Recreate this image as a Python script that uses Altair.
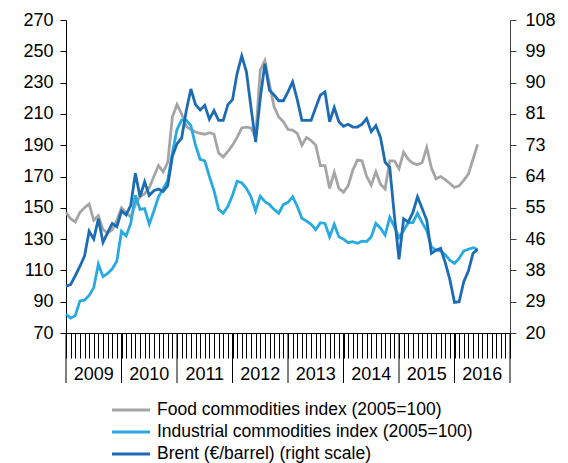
import altair as alt
import pandas as pd

# Monthly data, month index 0 = January 2009
food = [147, 143, 141, 147, 150, 152.5, 142, 145, 136, 134,
        136, 142, 150, 147, 144, 152, 157, 159, 163, 170,
        177, 173, 179, 208, 216, 210, 202, 200, 198.5, 197.5,
        197, 198, 197, 185, 182.5, 186, 190, 195, 201, 201.5,
        201, 195, 238, 244, 229, 214.6, 208, 205, 200, 199.7,
        197.6, 190, 195, 193, 190, 177, 177, 162.4, 172.7, 162.4,
        160, 164, 174, 180.5, 180, 170, 164.5, 173, 165, 162,
        180, 180, 175, 185.5, 181, 178.5, 177.5, 179, 188.5, 175.5,
        168.5, 170, 168, 165.5, 163, 164, 167.5, 171.5, 181, 190.5]

industrial = [82, 79.5, 81, 90.5, 91, 94, 99, 114, 106, 108,
              111, 116, 135, 132, 140, 158, 149, 149.5, 139.5, 148,
              157, 162, 167.5, 185, 200, 206, 206, 202.5, 190, 181,
              180, 170, 161, 149, 146.5, 151, 158, 167, 166, 162.5,
              157, 148, 157.5, 154, 152, 149, 146.5, 152, 153.5, 157,
              151, 143.3, 141.5, 139.5, 136, 140.5, 140, 131.5, 139.5, 131.5,
              130, 127.7, 128.4, 127.3, 128.7, 128.4, 131.5, 140, 137, 132.5,
              144, 138, 131, 135.5, 140.5, 140.5, 146.5, 140.5, 135.5, 125,
              123, 122.4, 120, 116.5, 114.5, 117.7, 122.4, 123.5, 124.5, 123.5]

brent = [33.2, 33.6, 36.1, 38.7, 41.6, 48.6, 46.4, 52.1, 45.5, 48.2,
         50.8, 49.9, 54.3, 53.2, 55.9, 64.9, 58.3, 62.5, 58.7, 60.0,
         60.5, 59.8, 61.4, 69.7, 73.2, 74.8, 82.5, 88.6, 84.2, 82.7,
         84.0, 80.1, 82.5, 79.8, 79.8, 84.2, 85.6, 93.0, 97.9, 93.5,
         83.4, 73.7, 86.0, 95.7, 88.2, 86.9, 85.3, 85.3, 87.8, 90.6,
         85.6, 79.8, 79.8, 79.8, 83.4, 86.9, 87.8, 79.4, 83.4, 79.4,
         78.1, 78.7, 77.9, 77.9, 78.7, 80.3, 76.6, 78.3, 75.0, 68.0,
         66.6, 53.0, 40.7, 52.1, 51.2, 53.9, 58.3, 55.0, 51.7, 42.4,
         43.3, 43.8, 39.8, 35.0, 28.6, 28.8, 34.4, 37.4, 42.4, 43.5]

years = [2009, 2010, 2011, 2012, 2013, 2014, 2015, 2016]
left_ticks = [70, 90, 110, 130, 150, 170, 190, 210, 230, 250, 270]
right_labels = ["20", "29", "38", "46", "55", "64", "73", "81", "90", "99", "108"]

names = ["Food commodities index (2005=100)",
         "Industrial commodities index (2005=100)",
         "Brent (€/barrel) (right scale)"]
colors = ["#A5A5A5", "#27A9E1", "#1B6CB4"]

FONT = "Liberation Sans"
n = len(food)
months = list(range(n))

left_df = pd.DataFrame({
    "m": months * 2,
    "value": food + industrial,
    "series": [names[0]] * n + [names[1]] * n,
})
brent_df = pd.DataFrame({"m": months, "value": brent, "series": [names[2]] * n})

color_scale = alt.Scale(domain=names, range=colors)
x_scale = alt.Scale(domain=[0, 96], nice=False, zero=False)

x_axis = alt.Axis(values=list(range(97)), tickSize=25, labels=False, title=None,
                  grid=False, domainColor="black", tickColor="black",
                  domainWidth=1, tickWidth=1)


def xenc(field):
    return alt.X(field, scale=x_scale, axis=x_axis)


left = alt.Chart(left_df).mark_line(strokeWidth=2.8).encode(
    x=xenc("m:Q"),
    y=alt.Y("value:Q", scale=alt.Scale(domain=[70, 270], nice=False, zero=False),
            axis=alt.Axis(values=left_ticks, orient="left", title=None, grid=False,
                          tickSize=6, labelPadding=7, domainColor="black",
                          tickColor="black", labelFontSize=18, labelFont=FONT,
                          labelColor="black")),
    color=alt.Color("series:N", scale=color_scale, legend=None),
    detail="series:N",
)

right_axis_values = [20 + 8.8 * k for k in range(len(right_labels))]
label_expr = "[" + ",".join("'%s'" % s for s in right_labels) + "][round((datum.value-20)/8.8)]"

right = alt.Chart(brent_df).mark_line(strokeWidth=2.8).encode(
    x=xenc("m:Q"),
    y=alt.Y("value:Q", scale=alt.Scale(domain=[20, 108], nice=False, zero=False),
            axis=alt.Axis(values=right_axis_values, orient="right", title=None, grid=False,
                          tickSize=6, labelPadding=9, domainColor="#404040",
                          tickColor="#404040", labelFontSize=18, labelFont=FONT,
                          labelColor="black", labelExpr=label_expr)),
    color=alt.Color("series:N", scale=color_scale, legend=None),
)

bounds_df = pd.DataFrame({"m": [(y - years[0]) * 12 for y in years] + [len(years) * 12]})
year_rules = alt.Chart(bounds_df).mark_rule(color="black", strokeWidth=1).encode(
    x=xenc("m:Q"),
    y=alt.value(313),
    y2=alt.value(363),
)

year_df = pd.DataFrame({"year": [str(y) for y in years]})
year_text = alt.Chart(year_df).transform_calculate(
    m="(toNumber(datum.year) - 2009) * 12 + 6"
).mark_text(font=FONT, fontSize=18, baseline="middle", align="center", color="black").encode(
    x=xenc("m:Q"),
    y=alt.value(355),
    text="year:N",
)

leg_df = pd.DataFrame({"series": names, "row": [0, 1, 2]})
leg_y = alt.Y("row:Q", scale=alt.Scale(domain=[0, 2], range=[390, 434]), axis=None)
leg_lines = alt.Chart(leg_df).mark_rule(strokeWidth=3).encode(
    x=alt.value(46), x2=alt.value(84), y=leg_y,
    color=alt.Color("series:N", scale=color_scale, legend=None),
)
leg_text = alt.Chart(leg_df).mark_text(font=FONT, fontSize=17.5, align="left",
                                       baseline="middle", color="black").encode(
    x=alt.value(91), y=leg_y, text="series:N",
)

chart = alt.layer(left, right, year_rules, year_text, leg_lines, leg_text).resolve_scale(
    y="independent"
).properties(
    width=444, height=313,
    autosize=alt.AutoSizeParams(type="none"),
    padding={"left": 58, "top": 12, "right": 50, "bottom": 130},
).configure_view(stroke=None)

chart.save("out.html", embed_options={"renderer": "svg", "actions": False})
